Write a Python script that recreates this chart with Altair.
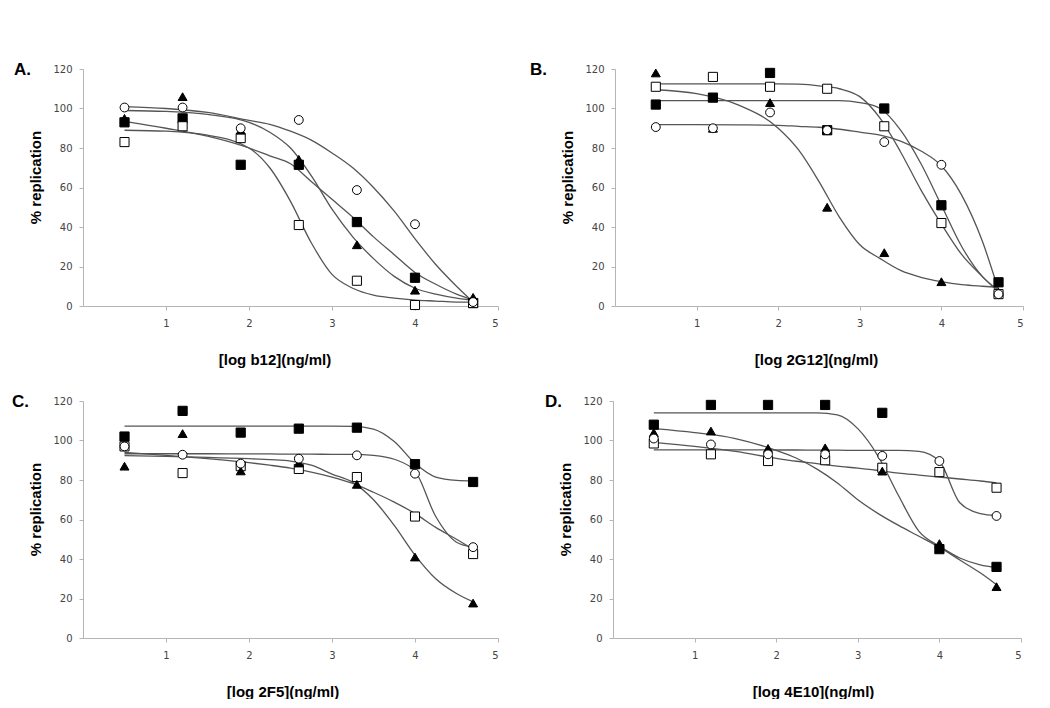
import altair as alt
import pandas as pd

# x positions of measured points and of the read-off fitted curves
XP = [0.5, 1.2, 1.9, 2.6, 3.3, 4.0, 4.7]
XC = [0.5, 1.0, 1.5, 2.0, 2.25, 2.5, 2.75, 3.0, 3.25, 3.5, 3.75, 4.0, 4.25, 4.5, 4.7]

SERIES = ["filled square", "open square", "filled triangle", "open circle"]

# Panel A (b12)
a_fsq = [93, 95, 71.5, 71.5, 42.5, 14.3, 1.5]
a_osq = [83, 91, 85, 41, 12.8, 0.5, 1.5]
a_ftri = [95, 106, 89, 74.3, 31, 8, 4.4]
a_ocir = [100.5, 100.5, 90, 94.2, 58.7, 41.4, 2]
a_c_fsq = [93.5, 90, 86, 80, 76, 72, 63, 54, 45, 35, 26, 17, 11, 6, 3]
a_c_osq = [89, 88.5, 86.5, 80, 70, 53, 32, 16, 9, 5.5, 4, 3, 2.5, 2, 2]
a_c_ftri = [99, 98.5, 97, 93, 88, 80, 66, 49, 35, 24, 15, 9, 6, 4, 3]
a_c_ocir = [101, 100, 98, 94, 92, 88.5, 84, 77.5, 70, 60, 48, 34, 21, 10, 2]

# Panel B (2G12)
b_fsq = [102, 105.5, 118, 89, 100, 51, 12]
b_osq = [111, 116, 111, 110, 91, 42, 6]
b_ftri = [118, 90, 103, 50, 27, 12.3, 7]
b_ocir = [90.6, 90, 98, 89, 83, 71.5, 6]
b_c_fsq = [104, 104, 104, 104, 104, 104, 104, 103, 100, 89, 72, 51, 30, 15, 8]
b_c_osq = [112.5, 112.5, 112.5, 112.5, 112.3, 111.5, 110, 106, 95, 78, 58.7, 41.5, 26, 15, 7]
b_c_ftri = [109.5, 107.5, 102, 90, 79, 63, 45, 31, 24, 18, 14.5, 12.3, 10.8, 10, 9.5]
b_c_ocir = [91.8, 91.8, 91.7, 91.5, 91, 90.5, 89.5, 88, 86.5, 83.5, 78.5, 71, 56, 33, 8]

# Panel C (2F5)
c_fsq = [102, 115, 104, 106, 106.5, 88, 79]
c_osq = [97, 83.5, 87, 85.6, 81.5, 61.5, 42.5]
c_ftri = [87, 103.5, 84.6, 88.6, 77.8, 41, 17.7]
c_ocir = [97, 92.8, 88.3, 90.8, 92.5, 83.2, 46]
c_c_fsq = [107.3, 107.3, 107.3, 107.3, 107.3, 107.3, 107.3, 107.3, 107.2, 105.8, 99.5, 88.5, 81.5, 79.8, 79.5]
c_c_osq = [94, 92.5, 90.8, 88.8, 87.5, 86, 84, 81.5, 78.3, 73.8, 68.8, 63, 56, 50, 45]
c_c_ftri = [92.3, 92, 91.5, 90.8, 90.3, 89.6, 87.5, 83, 78.8, 70, 57, 42, 30, 22.5, 18.3]
c_c_ocir = [93.3, 93.3, 93.3, 93.2, 93.2, 93.1, 93.1, 93, 93, 92.5, 90.5, 84.5, 61.5, 48.5, 46]

# Panel D (4E10)
d_fsq = [108, 118, 118, 118, 114, 45, 36]
d_osq = [98.5, 93, 89.6, 90, 86.2, 84, 76.1]
d_ftri = [104, 104.8, 96, 96.3, 84.5, 47.8, 26]
d_ocir = [101, 98, 93, 93, 92.2, 89.6, 61.8]
d_c_fsq = [114, 114, 114, 114, 114, 114, 113, 106, 92, 72, 54, 46.5, 40.5, 37, 35.6]
d_c_osq = [99, 97, 94.5, 91, 89.5, 88.3, 87, 86, 84.8, 83.5, 82.5, 81.5, 80.5, 79.5, 78.5]
d_c_ftri = [106, 104, 101, 95, 91, 85.5, 78.5, 70, 63, 57, 51.5, 46, 39.5, 33, 27]
d_c_ocir = [95.3, 95.3, 95.3, 95.2, 95.2, 95.1, 95.1, 95, 95, 95, 94.5, 89.5, 68.5, 63, 62]

Y_TICKS = [0, 20, 40, 60, 80, 100, 120]
X_TICKS = [1, 2, 3, 4, 5]


def make_panel(points, curves, xtitle, label, label_x, width, title_dx):
    prows, crows = [], []
    for s, vals in zip(SERIES, points):
        for xv, yv in zip(XP, vals):
            prows.append({"x": xv, "y": yv, "s": s})
    for s, vals in zip(SERIES, curves):
        for xv, yv in zip(XC, vals):
            crows.append({"x": xv, "y": yv, "s": s})
    pdf = pd.DataFrame(prows)
    cdf = pd.DataFrame(crows)

    xs = alt.Scale(domain=[0, 5], nice=False, zero=False)
    ys = alt.Scale(domain=[0, 120], nice=False)
    xax = alt.Axis(values=X_TICKS, title=xtitle, labelPadding=8, titlePadding=24,
                   titleX=width / 2 + title_dx, grid=False)
    yax = alt.Axis(values=Y_TICKS, title="% replication", labelPadding=7,
                   titlePadding=9, titleY=108, grid=False)
    X = alt.X("x:Q", scale=xs, axis=xax)
    Y = alt.Y("y:Q", scale=ys, axis=yax)

    lines = alt.Chart(cdf).mark_line(
        interpolate="monotone", color="#555555", strokeWidth=1.3
    ).encode(x=X, y=Y, detail="s:N")

    pts = alt.Chart(pdf).mark_point(
        filled=True, opacity=1, stroke="black", strokeWidth=1
    ).encode(
        x=X, y=Y,
        shape=alt.Shape("s:N", scale=alt.Scale(domain=SERIES,
                        range=["square", "square", "triangle-up", "circle"]), legend=None),
        fill=alt.Fill("s:N", scale=alt.Scale(domain=SERIES,
                      range=["black", "white", "black", "white"]), legend=None),
        size=alt.Size("s:N", scale=alt.Scale(domain=SERIES,
                      range=[85, 78, 90, 62]), legend=None),
    )

    lab = alt.Chart(pd.DataFrame({"t": [label]})).mark_text(
        align="left", baseline="alphabetic", fontSize=17, fontWeight="bold",
        font="Liberation Sans", color="black"
    ).encode(text="t:N", x=alt.value(label_x), y=alt.value(6))

    return alt.layer(lines, pts, lab).properties(width=width, height=237)


pA = make_panel([a_fsq, a_osq, a_ftri, a_ocir], [a_c_fsq, a_c_osq, a_c_ftri, a_c_ocir],
                "[log b12](ng/ml)", "A.", -69, 415, -16)
pB = make_panel([b_fsq, b_osq, b_ftri, b_ocir], [b_c_fsq, b_c_osq, b_c_ftri, b_c_ocir],
                "[log 2G12](ng/ml)", "B.", -85, 408, -3)
pC = make_panel([c_fsq, c_osq, c_ftri, c_ocir], [c_c_fsq, c_c_osq, c_c_ftri, c_c_ocir],
                "[log 2F5](ng/ml)", "C.", -71, 415, -8)
pD = make_panel([d_fsq, d_osq, d_ftri, d_ocir], [d_c_fsq, d_c_osq, d_c_ftri, d_c_ocir],
                "[log 4E10](ng/ml)", "D.", -68, 408, -4)

chart = alt.vconcat(
    alt.hconcat(pA, pB, spacing=31),
    alt.hconcat(pC, pD, spacing=46),
    spacing=26,
).properties(
    padding={"left": 4, "top": 53, "right": 0, "bottom": 0},
    background="white",
).configure_view(stroke=None).configure_axis(
    domainColor="#b5b5b5", tickColor="#b5b5b5", tickSize=4, grid=False,
    labelColor="#444444", labelFont="DejaVu Sans", labelFontSize=10,
    titleFont="Liberation Sans", titleFontSize=15, titleFontWeight="bold",
    titleColor="black"
)

chart.save("out.html", embed_options={"renderer": "svg", "actions": False})
